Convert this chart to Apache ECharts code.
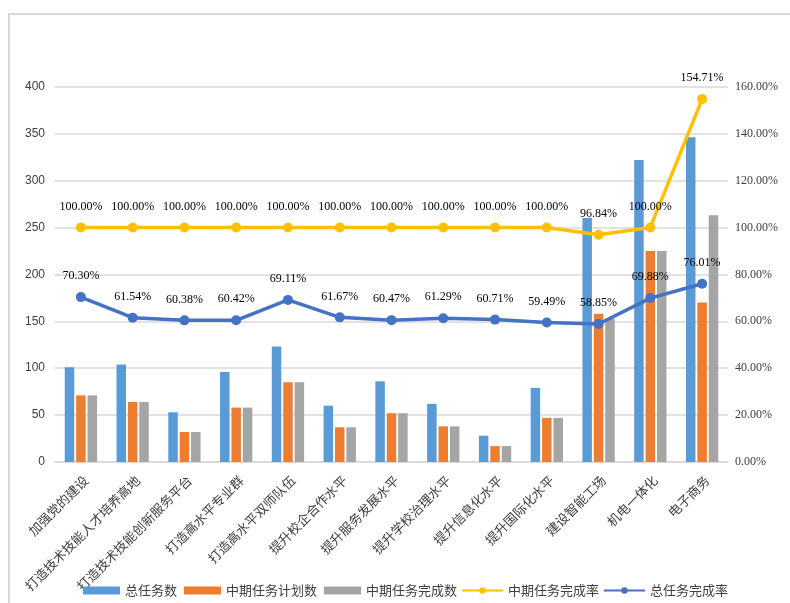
<!DOCTYPE html>
<html>
<head>
<meta charset="utf-8">
<script src="https://cdn.jsdelivr.net/npm/echarts@6/dist/echarts.min.js"></script>
<style>html,body{margin:0;padding:0;background:#fff;}#c{width:790px;height:603px;}</style>
</head>
<body>
<div id="c"></div>
<script>
var categories = ['加强党的建设','打造技术技能人才培养高地','打造技术技能创新服务平台','打造高水平专业群','打造高水平双师队伍','提升校企合作水平','提升服务发展水平','提升学校治理水平','提升信息化水平','提升国际化水平','建设智能工场','机电一体化','电子商务'];
var totalTasks = [101,104,53,96,123,60,86,62,28,79,260,322,346];
var midPlan = [71,64,32,58,85,37,52,38,17,47,158,225,170];
var midDone = [71,64,32,58,85,37,52,38,17,47,153,225,263];
var midRate = [100.00,100.00,100.00,100.00,100.00,100.00,100.00,100.00,100.00,100.00,96.84,100.00,154.71];
var totalRate = [70.30,61.54,60.38,60.42,69.11,61.67,60.47,61.29,60.71,59.49,58.85,69.88,76.01];
var leftTicks = [0,50,100,150,200,250,300,350,400];
var rightTicks = ['0.00%','20.00%','40.00%','60.00%','80.00%','100.00%','120.00%','140.00%','160.00%'];

var chart = echarts.init(document.getElementById('c'));
var serif = '"Liberation Serif", "Times New Roman", serif';
var cjk = '"Noto Sans CJK SC", sans-serif';
var lblStyle = {show:true, position:'top', distance:10, color:'#000', fontFamily:serif, fontSize:12, formatter:function(p){return p.value.toFixed(2)+'%';}};
var legendText = {fontSize:13, color:'#404040', fontFamily:cjk};
chart.setOption({
  animation:false,
  backgroundColor:'#fff',
  graphic:[{type:'rect', shape:{x:9,y:14,width:900,height:700}, style:{fill:'none', stroke:'#d9d9d9', lineWidth:2}, silent:true}],
  grid:{left:55, right:62, top:86.7, bottom:141},
  legend:[
    {top:579, left:78, itemWidth:37, itemHeight:8, itemGap:7, textStyle:legendText,
     data:[{name:'总任务数',icon:'rect'},{name:'中期任务计划数',icon:'rect'},{name:'中期任务完成数',icon:'rect'}]},
    {top:579, left:456, itemWidth:41, itemHeight:8, itemGap:4, textStyle:legendText,
     data:[{name:'中期任务完成率'},{name:'总任务完成率'}]}
  ],
  xAxis:{
    type:'category', data:categories,
    axisTick:{show:false},
    axisLine:{lineStyle:{color:'#d9d9d9', width:1.5}},
    axisLabel:{rotate:45, interval:0, fontSize:13, color:'#404040', margin:21, padding:[0,-7,0,0], fontFamily:cjk}
  },
  yAxis:[
    {type:'value', min:0, max:400, interval:50,
     axisLabel:{color:'#404040', fontSize:12, fontFamily:'"Liberation Sans", Arial, sans-serif', margin:10, formatter:function(v){return leftTicks[Math.round(v/50)];}},
     splitLine:{lineStyle:{color:'#d9d9d9', width:1.5}}, axisLine:{show:false}, axisTick:{show:false}},
    {type:'value', min:0, max:160, interval:20,
     axisLabel:{color:'#404040', fontSize:12, fontFamily:serif, margin:7, formatter:function(v){return rightTicks[Math.round(v/20)];}},
     splitLine:{show:false}, axisLine:{show:false}, axisTick:{show:false}}
  ],
  series:[
    {name:'总任务数', type:'bar', data:totalTasks, barWidth:9.5, barGap:'20%', itemStyle:{color:'#5B9BD5'}},
    {name:'中期任务计划数', type:'bar', data:midPlan, barWidth:9.5, barGap:'20%', itemStyle:{color:'#ED7D31'}},
    {name:'中期任务完成数', type:'bar', data:midDone, barWidth:9.5, barGap:'20%', itemStyle:{color:'#A5A5A5'}},
    {name:'中期任务完成率', type:'line', yAxisIndex:1, data:midRate, symbol:'circle', symbolSize:10,
     lineStyle:{color:'#FFC000', width:3.5}, itemStyle:{color:'#FFC000'}, label:lblStyle, z:5},
    {name:'总任务完成率', type:'line', yAxisIndex:1, data:totalRate, symbol:'circle', symbolSize:10,
     lineStyle:{color:'#4472C4', width:3.5}, itemStyle:{color:'#4472C4'}, label:lblStyle, z:6}
  ]
});
</script>
</body>
</html>
